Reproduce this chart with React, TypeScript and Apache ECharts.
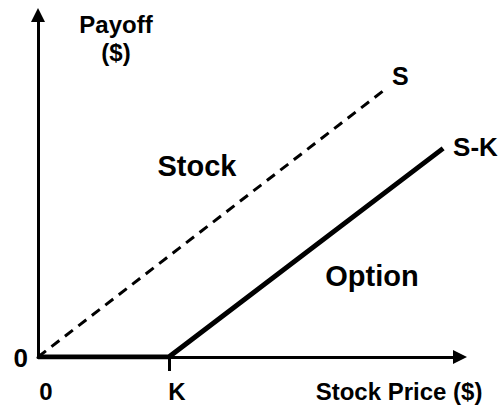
import React, { useEffect, useRef } from "react";
import * as echarts from "echarts";

const strikeK = 31;
const stockLine: [number, number][] = [
  [0, 0],
  [82, 78],
];
const optionLine: [number, number][] = [
  [0, 0],
  [strikeK, 0],
  [96, 61],
];
const xTickValues = [0, strikeK];
const xTickLabels = ["0", "K"];
const yTickValues = [0];
const yTickLabels = ["0"];
const FONT = "Liberation Sans, Arial, Helvetica, sans-serif";

export default function App() {
  const ref = useRef<HTMLDivElement>(null);
  useEffect(() => {
    if (!ref.current) return;
    const chart = echarts.init(ref.current, undefined, { renderer: "svg" });
    chart.setOption({
      animation: false,
      backgroundColor: "#ffffff",
      grid: { left: 38, right: 40, top: 15, bottom: 49 },
      xAxis: {
        type: "value",
        min: 0,
        max: 100,
        splitLine: { show: false },
        axisLine: {
          show: true,
          onZero: false,
          symbol: ["none", "triangle"],
          symbolSize: [14, 14],
          lineStyle: { color: "#000", width: 3 },
        },
        axisTick: {
          show: true,
          customValues: [strikeK],
          length: 14,
          lineStyle: { color: "#000", width: 3 },
        },
        axisLabel: {
          show: true,
          customValues: xTickValues,
          margin: 22,
          padding: [0, 0, 0, 16],
          fontSize: 24,
          fontWeight: "bold",
          fontFamily: FONT,
          color: "#000",
          formatter: (v: number) => {
            const i = xTickValues.indexOf(v);
            return i >= 0 ? xTickLabels[i] : "";
          },
        },
      },
      yAxis: {
        type: "value",
        min: 0,
        max: 100,
        splitLine: { show: false },
        axisLine: {
          show: true,
          onZero: false,
          symbol: ["none", "triangle"],
          symbolSize: [14, 14],
          lineStyle: { color: "#000", width: 3 },
        },
        axisTick: { show: false },
        axisLabel: {
          show: true,
          customValues: yTickValues,
          margin: 10,
          formatter: (v: number) => {
            const i = yTickValues.indexOf(v);
            return i >= 0 ? yTickLabels[i] : "";
          },
          fontSize: 26,
          fontWeight: "bold",
          fontFamily: FONT,
          color: "#000",
          verticalAlign: "bottom",
          padding: [0, 0, -14, 0],
        },
      },
      series: [
        {
          type: "line",
          name: "Stock",
          data: stockLine,
          showSymbol: false,
          symbol: "none",
          lineStyle: { color: "#000", width: 3, type: [10, 7] },
          endLabel: {
            show: true,
            formatter: "S",
            fontSize: 25,
            fontWeight: "bold",
            fontFamily: FONT,
            color: "#000",
            offset: [0, -14],
          },
          z: 3,
        },
        {
          type: "line",
          name: "Option",
          data: optionLine,
          showSymbol: false,
          symbol: "none",
          lineStyle: { color: "#000", width: 5, cap: "butt" },
          endLabel: {
            show: true,
            formatter: "S-K",
            fontSize: 26,
            fontWeight: "bold",
            fontFamily: FONT,
            color: "#000",
            offset: [2, -1],
          },
          z: 4,
        },
      ],
      graphic: [
        {
          type: "text",
          x: 116,
          y: 38,
          style: {
            text: "Payoff\n($)",
            fontSize: 24,
            lineHeight: 28,
            fontWeight: "bold",
            fontFamily: FONT,
            fill: "#000",
            align: "center",
            verticalAlign: "middle",
          },
        },
        {
          type: "text",
          x: 197,
          y: 166,
          style: {
            text: "Stock",
            fontSize: 29,
            fontWeight: "bold",
            fontFamily: FONT,
            fill: "#000",
            align: "center",
            verticalAlign: "middle",
          },
        },
        {
          type: "text",
          x: 372,
          y: 276,
          style: {
            text: "Option",
            fontSize: 29,
            fontWeight: "bold",
            fontFamily: FONT,
            fill: "#000",
            align: "center",
            verticalAlign: "middle",
          },
        },
        {
          type: "text",
          x: 399,
          y: 391,
          style: {
            text: "Stock Price ($)",
            fontSize: 24,
            fontWeight: "bold",
            fontFamily: FONT,
            fill: "#000",
            align: "center",
            verticalAlign: "middle",
          },
        },
      ],
    });
    return () => chart.dispose();
  }, []);
  return (
    <div
      ref={ref}
      style={{ position: "fixed", left: 0, top: 0, width: 500, height: 406 }}
    />
  );
}
